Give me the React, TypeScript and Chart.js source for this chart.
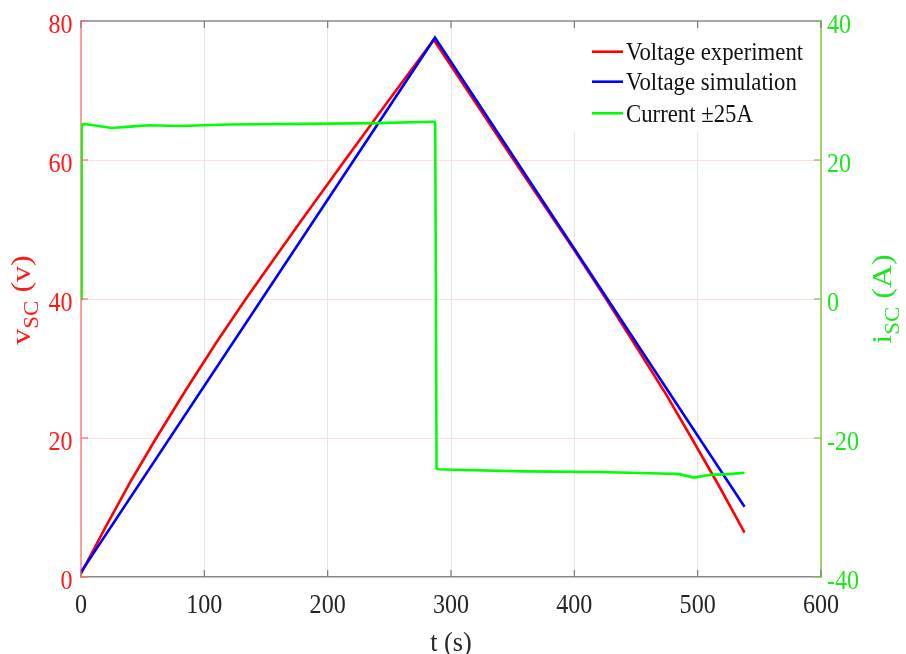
import React, { useEffect, useRef } from 'react';
import { Chart, registerables } from 'chart.js';

Chart.register(...registerables);

// ---- data ----
const tExp = [0, 20, 40, 61, 85, 110, 134, 175, 215, 250, 286, 350, 400, 425, 450, 475, 495, 517, 538];
const vExp = [0.5, 7.2, 13.7, 20.0, 26.9, 33.8, 40.1, 50.4, 60.2, 68.7, 77.3, 60.2, 47.0, 40.2, 33.2, 26.1, 20.0, 13.2, 6.4];

const tSim = [0, 287, 538];
const vSim = [0.7, 77.6, 10.1];

const tCur = [0, 0.3, 0.7, 2, 10, 25, 40, 55, 80, 120, 180, 240, 284, 286.5, 287.2, 288.3, 290, 310, 360, 420, 470, 485, 497, 510, 525, 538];
const iCur = [0, 0, 25.0, 25.2, 25.0, 24.6, 24.8, 25.0, 24.9, 25.1, 25.2, 25.3, 25.5, 25.5, 25.2, -24.4, -24.5, -24.6, -24.8, -24.9, -25.1, -25.2, -25.7, -25.3, -25.2, -25.0];

const xTicks = [0, 100, 200, 300, 400, 500, 600];
const vTicks = [0, 20, 40, 60, 80];
const iTicks = [-40, -20, 0, 20, 40];

const seriesLabels = ['Voltage experiment', 'Voltage simulation', 'Current \u00b125A'];
const seriesColors = ['#ff0000', '#0000ff', '#00ff00'];

const FONT = '"Liberation Serif", "Times New Roman", serif';
const RED_TXT = '#ff1a1a';
const GREEN_TXT = '#1ee61e';
const DARK_TXT = '#262626';

function txt(ctx: CanvasRenderingContext2D, s: string, x: number, y: number, size: number, color: string, align: CanvasTextAlign, sx: number) {
  ctx.save();
  ctx.translate(x, y);
  ctx.scale(sx, 1);
  ctx.font = `${size}px ${FONT}`;
  ctx.fillStyle = color;
  ctx.textAlign = align;
  ctx.textBaseline = 'alphabetic';
  ctx.fillText(s, 0, 0);
  ctx.restore();
}

function rotTitle(ctx: CanvasRenderingContext2D, baseX: number, cy: number, main: string, sub: string, rest: string,
  size: number, subSize: number, subDy: number, color: string, sy: number) {
  ctx.save();
  ctx.translate(baseX, cy);
  ctx.rotate(-Math.PI / 2);
  ctx.scale(1, sy);
  ctx.fillStyle = color;
  ctx.textBaseline = 'alphabetic';
  ctx.textAlign = 'left';
  ctx.font = `${size}px ${FONT}`;
  const w1 = ctx.measureText(main).width;
  const w3 = ctx.measureText(rest).width;
  ctx.font = `${subSize}px ${FONT}`;
  const w2 = ctx.measureText(sub).width;
  let x = -(w1 + w2 + w3) / 2;
  ctx.font = `${size}px ${FONT}`;
  ctx.fillText(main, x, 0);
  x += w1;
  ctx.font = `${subSize}px ${FONT}`;
  ctx.fillText(sub, x, subDy / sy);
  x += w2;
  ctx.font = `${size}px ${FONT}`;
  ctx.fillText(rest, x, 0);
  ctx.restore();
}

const decor = {
  id: 'decor',
  afterDatasetsDraw(chart: any) {
    const ctx: CanvasRenderingContext2D = chart.ctx;
    const a = chart.chartArea;
    const xs = chart.scales.x;
    const ys = chart.scales.y;
    const y1 = chart.scales.y1;
    ctx.save();
    ctx.strokeStyle = '#8a8a8a';
    ctx.lineWidth = 1.5;
    ctx.beginPath();
    ctx.moveTo(a.left, a.top);
    ctx.lineTo(a.right, a.top);
    ctx.stroke();
    ctx.strokeStyle = '#7a7a7a';
    ctx.lineWidth = 1.2;
    xTicks.forEach((v) => {
      const px = xs.getPixelForValue(v);
      ctx.beginPath();
      ctx.moveTo(px, a.top);
      ctx.lineTo(px, a.top + 7);
      ctx.moveTo(px, a.bottom);
      ctx.lineTo(px, a.bottom - 7);
      ctx.stroke();
    });
    ctx.strokeStyle = '#ff6a6a';
    vTicks.forEach((v) => {
      const py = ys.getPixelForValue(v);
      ctx.beginPath();
      ctx.moveTo(a.left, py);
      ctx.lineTo(a.left + 7, py);
      ctx.stroke();
    });
    ctx.strokeStyle = '#7cc447';
    iTicks.forEach((v) => {
      const py = y1.getPixelForValue(v);
      ctx.beginPath();
      ctx.moveTo(a.right, py);
      ctx.lineTo(a.right - 7, py);
      ctx.stroke();
    });
    ctx.restore();
  },
  afterDraw(chart: any) {
    const ctx: CanvasRenderingContext2D = chart.ctx;
    const a = chart.chartArea;
    const xs = chart.scales.x;
    const ys = chart.scales.y;
    const y1 = chart.scales.y1;

    xTicks.forEach((v) => {
      txt(ctx, String(v), xs.getPixelForValue(v), 612.5, 28, DARK_TXT, 'center', 0.86);
    });
    vTicks.forEach((v) => {
      txt(ctx, String(v), a.left - 8.5, ys.getPixelForValue(v) + 11.5, 28, RED_TXT, 'right', 0.86);
    });
    iTicks.forEach((v) => {
      txt(ctx, String(v), a.right + 6, y1.getPixelForValue(v) + 11.5, 28, GREEN_TXT, 'left', 0.86);
    });

    txt(ctx, 't (s)', (a.left + a.right) / 2, 651, 28, DARK_TXT, 'center', 0.94);
    rotTitle(ctx, 30, 300, 'v', 'SC', ' (v)', 32, 23, 8, RED_TXT, 0.87);
    rotTitle(ctx, 891, 299, 'i', 'SC', ' (A)', 32, 23, 8, GREEN_TXT, 0.87);

    ctx.save();
    ctx.fillStyle = '#ffffff';
    ctx.fillRect(570, 31, a.right - 2 - 570, 101);
    const rows = [51.7, 81.7, 113.3];
    seriesLabels.forEach((label, i) => {
      ctx.strokeStyle = seriesColors[i];
      ctx.lineWidth = 2.6;
      ctx.beginPath();
      ctx.moveTo(592, rows[i]);
      ctx.lineTo(623, rows[i]);
      ctx.stroke();
      txt(ctx, label, 626, rows[i] + 8.3, 25, '#111111', 'left', 0.91);
    });
    ctx.restore();
  },
};

export default function App() {
  const ref = useRef<HTMLCanvasElement | null>(null);

  useEffect(() => {
    document.body.style.margin = '0';
    const canvas = ref.current;
    if (!canvas) return;

    const toPts = (xs: number[], ys: number[]) => xs.map((x, i) => ({ x, y: ys[i] }));

    const chart = new Chart(canvas, {
      type: 'line',
      data: {
        datasets: [
          {
            label: seriesLabels[0],
            data: toPts(tExp, vExp),
            borderColor: seriesColors[0],
            backgroundColor: seriesColors[0],
            borderWidth: 2.6,
            pointRadius: 0,
            tension: 0,
            yAxisID: 'y',
            order: 3,
          },
          {
            label: seriesLabels[1],
            data: toPts(tSim, vSim),
            borderColor: seriesColors[1],
            backgroundColor: seriesColors[1],
            borderWidth: 2.6,
            pointRadius: 0,
            tension: 0,
            yAxisID: 'y',
            order: 2,
          },
          {
            label: seriesLabels[2],
            data: toPts(tCur, iCur),
            borderColor: seriesColors[2],
            backgroundColor: seriesColors[2],
            borderWidth: 2.6,
            pointRadius: 0,
            tension: 0,
            yAxisID: 'y1',
            order: 1,
          },
        ],
      },
      options: {
        responsive: false,
        animation: false,
        devicePixelRatio: 1,
        layout: { padding: { top: 21, left: 0, right: 0, bottom: 0 } },
        plugins: {
          legend: { display: false },
          tooltip: { enabled: false },
          title: { display: false },
        },
        scales: {
          x: {
            type: 'linear',
            min: 0,
            max: 600,
            ticks: { display: false, stepSize: 100 },
            grid: {
              drawTicks: false,
              color: (c: any) => (c.tick && (c.tick.value === 0 || c.tick.value === 600) ? 'rgba(0,0,0,0)' : '#e6e6e6'),
              lineWidth: 1,
            },
            border: { color: '#8a8a8a', width: 1.5 },
            afterFit: (s: any) => { s.height = 77; },
          },
          y: {
            type: 'linear',
            position: 'left',
            min: 0,
            max: 80,
            ticks: { display: false, stepSize: 20 },
            grid: {
              drawTicks: false,
              color: (c: any) => (c.tick && (c.tick.value === 0 || c.tick.value === 80) ? 'rgba(0,0,0,0)' : '#ffdede'),
              lineWidth: 1,
            },
            border: { color: '#ff9c9c', width: 2 },
            afterFit: (s: any) => { s.width = 81; },
          },
          y1: {
            type: 'linear',
            position: 'right',
            min: -40,
            max: 40,
            ticks: { display: false, stepSize: 20 },
            grid: { display: false, drawTicks: false },
            border: { color: '#a3d174', width: 2 },
            afterFit: (s: any) => { s.width = 85; },
          },
        },
      },
      plugins: [decor],
    } as any);

    return () => chart.destroy();
  }, []);

  return (
    <div style={{ width: 906, height: 654, background: '#ffffff' }}>
      <canvas ref={ref} width={906} height={654} style={{ display: 'block' }} />
    </div>
  );
}
